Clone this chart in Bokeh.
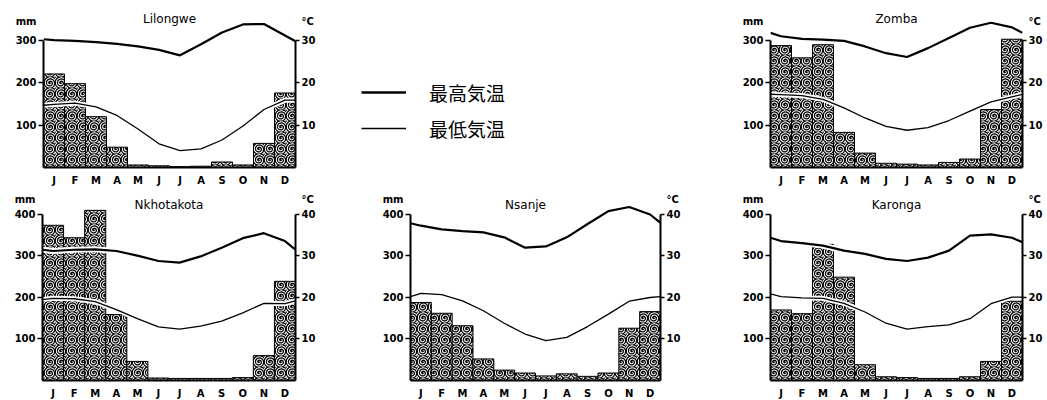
from bokeh.plotting import figure
from bokeh.models import Range1d, LinearAxis, FixedTicker, Label, Legend, LegendItem
from bokeh.layouts import row, column
from bokeh.embed import file_html
from bokeh.resources import INLINE

months = ["J", "F", "M", "A", "M", "J", "J", "A", "S", "O", "N", "D"]

# --- Lilongwe ---
lilongwe_rain = [221, 198, 120, 48, 6, 4, 2, 3, 13, 6, 57, 176]
lilongwe_tmax = [30.1, 29.9, 29.6, 29.2, 28.6, 27.8, 26.5, 29.1, 31.9, 33.8, 33.9, 31.2]
lilongwe_tmax_ends = [30.3, 29.8]
lilongwe_tmin = [14.9, 15.2, 14.3, 12.3, 9.1, 5.6, 4.0, 4.4, 6.5, 9.8, 13.7, 15.9]
lilongwe_tmin_ends = [14.7, 15.9]

# --- Zomba ---
zomba_rain = [288, 259, 290, 83, 34, 10, 8, 6, 12, 20, 137, 303]
zomba_tmax = [31.0, 30.4, 30.2, 29.9, 28.6, 27.0, 26.1, 28.2, 30.6, 33.0, 34.2, 33.1]
zomba_tmax_ends = [31.8, 31.8]
zomba_tmin = [17.2, 17.0, 16.1, 14.1, 11.7, 9.7, 8.8, 9.4, 11.1, 13.3, 15.5, 16.7]
zomba_tmin_ends = [17.3, 17.3]

# --- Nkhotakota ---
nkhotakota_rain = [374, 344, 410, 159, 46, 6, 5, 5, 5, 7, 60, 239]
nkhotakota_tmax = [31.2, 31.5, 31.6, 31.2, 30.1, 28.8, 28.4, 29.9, 32.0, 34.3, 35.5, 33.6]
nkhotakota_tmax_ends = [31.5, 31.5]
nkhotakota_tmin = [19.8, 19.7, 19.0, 17.1, 14.9, 12.9, 12.4, 13.1, 14.3, 16.3, 18.6, 18.5]
nkhotakota_tmin_ends = [19.5, 19.2]

# --- Nsanje ---
nsanje_rain = [188, 162, 132, 52, 25, 18, 11, 16, 10, 18, 126, 166]
nsanje_tmax = [37.3, 36.4, 36.0, 35.7, 34.5, 32.0, 32.3, 34.5, 37.7, 40.8, 41.8, 40.0]
nsanje_tmax_ends = [37.9, 38.0]
nsanje_tmin = [21.0, 20.7, 19.2, 16.8, 13.8, 11.2, 9.6, 10.4, 13.0, 16.0, 19.1, 20.0]
nsanje_tmin_ends = [20.2, 20.2]

# --- Karonga ---
karonga_rain = [170, 161, 328, 249, 38, 9, 7, 5, 5, 9, 46, 191]
karonga_tmax = [33.6, 33.1, 32.5, 31.3, 30.5, 29.3, 28.8, 29.6, 31.3, 34.9, 35.2, 34.4]
karonga_tmax_ends = [34.4, 33.3]
karonga_tmin = [20.2, 19.9, 19.8, 18.6, 16.5, 13.8, 12.4, 13.0, 13.4, 14.9, 18.5, 20.1]
karonga_tmin_ends = [20.9, 20.1]

legend_labels = ["最高気温", "最低気温"]
unit_mm = "mm"
unit_c = "°C"

top_mm_ticks = [100, 200, 300]
top_c_ticks = [10, 20, 30]
bottom_mm_ticks = [100, 200, 300, 400]
bottom_c_ticks = [10, 20, 30, 40]

FONT = "DejaVu Sans"
LBL = dict(major_label_text_font=FONT, major_label_text_font_size="10px",
           major_label_text_font_style="bold", major_label_text_color="black")


def climograph(name, rain, tmax, tmax_ends, tmin, tmin_ends, mm_ticks, c_ticks,
               y_end, frame_w, frame_h, bl, br, bt, bb, title_y, unit_y,
               label_standoff, title_dx=0):
    p = figure(frame_width=frame_w, frame_height=frame_h,
               min_border_left=bl, min_border_right=br,
               min_border_top=bt, min_border_bottom=bb,
               x_range=Range1d(0, 12), y_range=Range1d(0, y_end),
               x_axis_type=None, y_axis_type=None,
               output_backend="svg", toolbar_location=None)
    p.extra_y_ranges = {"temp": Range1d(0, y_end / 10.0)}
    p.outline_line_color = None
    p.background_fill_color = "white"
    p.border_fill_color = "white"

    xc = [i + 0.5 for i in range(12)]

    xaxis = LinearAxis(ticker=FixedTicker(ticks=xc),
                       major_label_overrides={x: m for x, m in zip(xc, months)},
                       major_tick_line_color=None, minor_tick_line_color=None,
                       major_tick_out=0, major_tick_in=0,
                       axis_line_width=2, axis_line_color="black",
                       major_label_standoff=label_standoff, **LBL)
    p.add_layout(xaxis, "below")

    top_mm = mm_ticks[-1]
    top_c = c_ticks[-1]
    # axis lines with tick marks (inner)
    yline = LinearAxis(ticker=FixedTicker(ticks=mm_ticks), bounds=(0, top_mm),
                       major_label_overrides={t: "" for t in mm_ticks},
                       major_tick_out=5, major_tick_in=0, major_tick_line_width=1.5,
                       minor_tick_line_color=None, major_label_standoff=0,
                       axis_line_width=2, axis_line_color="black", **LBL)
    p.add_layout(yline, "left")
    rline = LinearAxis(y_range_name="temp", ticker=FixedTicker(ticks=c_ticks),
                       bounds=(0, top_c),
                       major_label_overrides={t: "" for t in c_ticks},
                       major_tick_out=4, major_tick_in=0, major_tick_line_width=1.5,
                       minor_tick_line_color=None, major_label_standoff=0,
                       axis_line_width=2, axis_line_color="black", **LBL)
    p.add_layout(rline, "right")
    # tick labels incl. unit (outer)
    ylab = LinearAxis(ticker=FixedTicker(ticks=mm_ticks + [unit_y]),
                      major_label_overrides={unit_y: unit_mm},
                      axis_line_color=None, major_tick_line_color=None,
                      minor_tick_line_color=None, major_tick_out=0, major_tick_in=0,
                      major_label_standoff=2, **LBL)
    p.add_layout(ylab, "left")
    unit_t = unit_y / 10.0
    rlab = LinearAxis(y_range_name="temp", ticker=FixedTicker(ticks=c_ticks + [unit_t]),
                      major_label_overrides={unit_t: unit_c},
                      axis_line_color=None, major_tick_line_color=None,
                      minor_tick_line_color=None, major_tick_out=0, major_tick_in=0,
                      major_label_standoff=2, **LBL)
    p.add_layout(rlab, "right")

    p.vbar(x=xc, top=rain, bottom=0, width=1,
           fill_color="white", line_color="black", line_width=1,
           hatch_pattern="spiral", hatch_scale=11, hatch_weight=1.3,
           hatch_color="black")

    xs = [0.0] + xc + [12.0]
    ymax = [tmax_ends[0]] + list(tmax) + [tmax_ends[1]]
    ymin = [tmin_ends[0]] + list(tmin) + [tmin_ends[1]]
    p.line(xs, ymin, y_range_name="temp", line_color="white", line_width=5)
    p.line(xs, ymin, y_range_name="temp", line_color="black", line_width=1.3)
    p.line(xs, ymax, y_range_name="temp", line_color="white", line_width=6)
    p.line(xs, ymax, y_range_name="temp", line_color="black", line_width=2.2)

    p.add_layout(Label(x=6, y=title_y, x_offset=title_dx, text=name,
                       text_align="center", text_baseline="middle",
                       text_font=FONT, text_font_size="12px",
                       text_color="black"))
    return p


TOP = dict(mm_ticks=top_mm_ticks, c_ticks=top_c_ticks, y_end=375.6,
           frame_h=159, bt=8, bb=24, title_y=350, unit_y=345, label_standoff=7)
BOT = dict(mm_ticks=bottom_mm_ticks, c_ticks=bottom_c_ticks, y_end=450.6,
           frame_h=187, bt=2, bb=19, title_y=422, unit_y=436, label_standoff=7)

p_lil = climograph("Lilongwe", lilongwe_rain, lilongwe_tmax, lilongwe_tmax_ends,
                   lilongwe_tmin, lilongwe_tmin_ends, frame_w=252, bl=43, br=22, **TOP)
p_zom = climograph("Zomba", zomba_rain, zomba_tmax, zomba_tmax_ends,
                   zomba_tmin, zomba_tmin_ends, frame_w=252, bl=35, br=24, **TOP)
p_nkh = climograph("Nkhotakota", nkhotakota_rain, nkhotakota_tmax, nkhotakota_tmax_ends,
                   nkhotakota_tmin, nkhotakota_tmin_ends, frame_w=253, bl=42, br=22, **BOT)
p_nsa = climograph("Nsanje", nsanje_rain, nsanje_tmax, nsanje_tmax_ends,
                   nsanje_tmin, nsanje_tmin_ends, frame_w=250, bl=92, br=75,
                   title_dx=-10, **BOT)
p_kar = climograph("Karonga", karonga_rain, karonga_tmax, karonga_tmax_ends,
                   karonga_tmin, karonga_tmin_ends, frame_w=252, bl=35, br=24, **BOT)

# legend panel: frame aligned with the top-row frames (8 + 159 + 24)
p_leg = figure(frame_width=399, frame_height=159,
               min_border_left=18, min_border_top=8,
               min_border_right=0, min_border_bottom=24,
               x_range=Range1d(0, 1), y_range=Range1d(0, 1),
               x_axis_type=None, y_axis_type=None,
               output_backend="svg", toolbar_location=None)
p_leg.outline_line_color = None
p_leg.background_fill_color = "white"
p_leg.border_fill_color = "white"
# legend proxies kept outside the visible range
r_max = p_leg.line(x=[-5, -4], y=[-5, -5], line_color="black", line_width=2.6)
r_min = p_leg.line(x=[-5, -4], y=[-5, -5], line_color="black", line_width=1.4)
legend = Legend(items=[LegendItem(label=legend_labels[0], renderers=[r_max]),
                       LegendItem(label=legend_labels[1], renderers=[r_min])],
                location="bottom_left", orientation="vertical",
                glyph_width=45, glyph_height=28, label_height=28,
                label_standoff=23, spacing=8, padding=0, margin=25,
                border_line_color=None, background_fill_alpha=0,
                label_text_font="Noto Sans CJK JP", label_text_font_size="19px",
                label_text_color="black")
p_leg.add_layout(legend)

layout = column(row(p_lil, p_leg, p_zom), row(p_nkh, p_nsa, p_kar))

open("out.html", "w").write(file_html(layout, INLINE))
